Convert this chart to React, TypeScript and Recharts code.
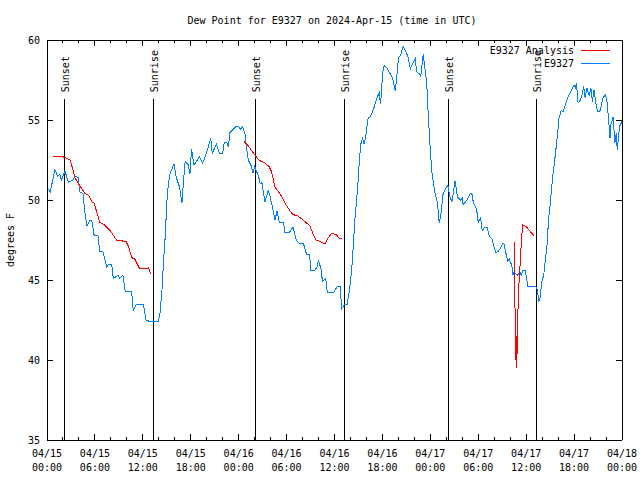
import { Line, LineChart, ReferenceLine, XAxis, YAxis } from "recharts";

const FONT = '"DejaVu Sans Mono", monospace';
const BLUE = "#0080ff";
const RED = "#ff0000";

// hours since 2024-04-15 00:00 UTC, dew point in F
const observed: [number, number][] = [
  [0, 50.8], [0.4, 50.5], [1, 51.9], [1.3, 51.5], [1.6, 51.6], [1.8, 51.25],
  [2.25, 51.8], [2.7, 51.1], [3.3, 51.25], [3.5, 51.5], [3.9, 51.4], [4.1, 50.5],
  [4.5, 50.4], [4.75, 49.2], [5, 48.4], [5.4, 48.75], [5.6, 48.75], [5.9, 47.8],
  [6.4, 47.75], [6.6, 46.8], [7, 46.8], [7.5, 45.8], [7.7, 46], [8.1, 46],
  [8.3, 45.1], [8.9, 45.3], [9.1, 45.1], [9.5, 45.3], [9.8, 44.3], [10.2, 44.25],
  [10.6, 44.3], [10.8, 43.1], [11.2, 43.5], [11.6, 43.5], [12.06, 43.5], [12.4, 42.5],
  [12.9, 42.4], [13.9, 42.4], [14.15, 42.9], [14.4, 44.4], [14.6, 46.25], [14.8, 47.7],
  [15, 49.8], [15.2, 51.05], [15.4, 51.6], [15.6, 51.9], [15.9, 52.25], [16.2, 51.4],
  [16.6, 50.8], [16.9, 49.8], [17.1, 51.25], [17.3, 52.4], [17.7, 52.2], [17.9, 51.6],
  [18.1, 53.2], [18.4, 52.2], [18.7, 52.4], [19.1, 52.7], [19.5, 52.3], [20, 53],
  [20.5, 53.85], [20.7, 52.9], [21.2, 53.5], [21.6, 52.9], [22, 52.9], [22.2, 53.6],
  [22.5, 53.6], [22.7, 53.3], [22.9, 54.2], [23.3, 54.4], [23.7, 54.6], [24, 54.6],
  [24.2, 54.4], [24.5, 54.6], [24.8, 54.1], [25, 53.2], [25.2, 52.5], [25.6, 52.1],
  [25.8, 51.7], [26, 52.1], [26.5, 51.45], [26.7, 51], [26.9, 51.1], [27.3, 49.9],
  [27.7, 50.6], [27.9, 50.3], [28.3, 49.4], [28.55, 48.75], [28.8, 49.3], [29.1, 48.6],
  [29.6, 48.6], [29.8, 47.95], [30.4, 48], [30.8, 48.3], [31.2, 47.5], [31.7, 47.25],
  [32.1, 47.3], [32.5, 46.6], [32.9, 46.6], [33, 45.6], [33.5, 45.6], [33.8, 45.8],
  [34, 46.25], [34.3, 45.7], [34.5, 44.9], [34.9, 45.1], [35.1, 44.2], [35.85, 44.2],
  [36.1, 44.4], [36.35, 44.6], [36.7, 44.6], [36.9, 43.2], [37.3, 43.5], [37.6, 43.5],
  [37.85, 44.3], [38.15, 45.6], [38.35, 47.1], [38.55, 48.75], [38.8, 50.2], [39, 51.5],
  [39.1, 52.4], [39.3, 53.5], [39.5, 53.85], [39.7, 53.5], [39.9, 53.95], [40.2, 55.1],
  [40.5, 55.2], [40.9, 55.7], [41.3, 56.35], [41.6, 56.7], [41.75, 56], [41.9, 56.7],
  [42, 57.9], [42.2, 58.4], [42.5, 58.3], [42.95, 57.9], [43.3, 57.6], [43.6, 56.8],
  [43.8, 57.7], [44, 58.85], [44.3, 59.1], [44.6, 59.6], [44.9, 59.3], [45.2, 58.95],
  [45.5, 58.2], [45.75, 58.5], [46.1, 58.85], [46.3, 58], [46.6, 57.9], [46.8, 57.7],
  [47.1, 59.1], [47.3, 58.3], [47.55, 57.3], [47.75, 55.2], [47.95, 53.5], [48.2, 51.7],
  [48.4, 51], [48.6, 50.4], [48.9, 49.8], [49.1, 48.6], [49.3, 49], [49.6, 50.4],
  [50, 50.8], [50.2, 50.9], [50.45, 50.2], [50.7, 49.9], [50.9, 50.5], [51.1, 51.2],
  [51.4, 50.2], [51.8, 50], [52, 50.1], [52.1, 49.7], [52.6, 50], [53, 50.4],
  [53.2, 50.4], [53.4, 49.8], [53.8, 49.4], [54, 48.6], [54.3, 48.9], [54.5, 48.1],
  [54.8, 48.3], [55.1, 48.3], [55.4, 47.7], [55.7, 47.6], [55.9, 47.2], [56.2, 46.7],
  [56.5, 46.8], [56.8, 47], [57.05, 47.3], [57.2, 47.3], [57.5, 46.6], [57.7, 46.2],
  [57.9, 46.3], [58.2, 45.9], [58.35, 45.3], [58.5, 45.5], [58.9, 45.3], [59.2, 45.5],
  [59.4, 45.3], [59.6, 45.6], [59.9, 45.6], [60.2, 44.6], [61.2, 44.6], [61.4, 44.4],
  [61.6, 43.65], [61.75, 43.9], [61.95, 44.9], [62.2, 45.3], [62.4, 46.25], [62.6, 47.1],
  [62.8, 48.75], [63, 49.7], [63.2, 50.8], [63.4, 51.8], [63.6, 52.6], [63.9, 53.95],
  [64.1, 55.1], [64.4, 55.6], [64.6, 55.5], [64.8, 55.8], [65.1, 56.25], [65.4, 56.6],
  [65.6, 56.8], [66, 57.2], [66.15, 57], [66.3, 57.3], [66.5, 56.05], [66.8, 56.25],
  [67, 56.6], [67.2, 57.1], [67.4, 56.35], [67.6, 57], [67.9, 56.5], [68.1, 57],
  [68.3, 56.15], [68.5, 56.9], [68.8, 55.8], [69, 55.5], [69.3, 55.6], [69.6, 56.35],
  [69.9, 56.6], [70.1, 56.25], [70.3, 55.2], [70.5, 53.85], [70.6, 54.7], [70.9, 55.2],
  [71.1, 53.55], [71.3, 54.2], [71.4, 53.1], [71.7, 54.6], [71.9, 54.8], [72, 55],
];

const analysisNight1: [number, number][] = [
  [0.7, 52.75], [2, 52.7], [2.9, 52.5], [3.3, 51.8], [3.5, 51.4], [3.9, 51.05],
  [4.3, 50.75], [4.75, 50.4], [5.2, 50.3], [5.6, 49.9], [5.9, 49.8], [6.2, 49.3],
  [6.6, 48.6], [7.2, 48.45], [7.9, 48.1], [8.3, 47.8], [8.7, 47.5], [9.9, 47.4],
  [10.2, 47.1], [10.6, 46.4], [11, 46.3], [11.6, 45.7], [12.3, 45.7], [12.7, 45.75],
  [13, 45.4],
];

const analysisNight2: [number, number][] = [
  [24.7, 53.65], [25.2, 53.4], [25.6, 53.1], [26.05, 52.8], [26.5, 52.5], [26.9, 52.4],
  [27.3, 52.3], [27.8, 52.1], [28.1, 51.8], [28.55, 50.8], [29, 50.5], [29.4, 50.2],
  [29.8, 49.8], [30.2, 49.5], [30.75, 49.1], [31.4, 49], [31.8, 48.85], [32.3, 48.65],
  [32.9, 48.4], [33.3, 47.9], [33.7, 47.5], [34.2, 47.4], [34.8, 47.25], [35.1, 47.55],
  [35.6, 47.9], [36.2, 47.85], [36.6, 47.6], [36.9, 47.6],
];

const analysisNight3: [number, number][] = [
  [58.55, 47.4], [58.6, 43.3], [58.75, 39.5], [58.8, 41.5], [58.85, 40.3], [58.95, 42.7],
  [59.05, 44.4], [59.15, 45.2], [59.3, 46.5], [59.45, 47.8], [59.6, 48.45], [60, 48.35],
  [60.4, 48.1], [61, 47.75],
];

const sunHours = [2.15, 13.3, 26.17, 37.23, 50.25, 61.3];
const sunNames = ["Sunset", "Sunrise", "Sunset", "Sunrise", "Sunset", "Sunrise"];
const sunLineTop = 56.3;

const majorHours = [0, 6, 12, 18, 24, 30, 36, 42, 48, 54, 60, 66, 72];
const majorDates = ["04/15", "04/15", "04/15", "04/15", "04/16", "04/16", "04/16", "04/16", "04/17", "04/17", "04/17", "04/17", "04/18"];
const majorTimes = ["00:00", "06:00", "12:00", "18:00", "00:00", "06:00", "12:00", "18:00", "00:00", "06:00", "12:00", "18:00", "00:00"];
const xTicks = Array.from({ length: 37 }, (_, i) => i * 2);
const yTicks = [35, 40, 45, 50, 55, 60];

const toRows = (pts: [number, number][]) => pts.map(([h, v]) => ({ h, v }));

const textStyle = { fontFamily: FONT, fontSize: 10, fill: "#000" };

function BottomTick({ x, y, payload }: any) {
  const i = majorHours.indexOf(payload.value);
  return (
    <g>
      <line x1={x} x2={x} y1={y} y2={y - (i >= 0 ? 6 : 3)} stroke="#000" />
      {i >= 0 && (
        <text x={x} y={y + 17} textAnchor="middle" {...textStyle}>
          <tspan x={x}>{majorDates[i]}</tspan>
          <tspan x={x} dy={14}>{majorTimes[i]}</tspan>
        </text>
      )}
    </g>
  );
}

function TopTick({ x, y, payload }: any) {
  const major = majorHours.includes(payload.value);
  return <line x1={x} x2={x} y1={y} y2={y + (major ? 6 : 3)} stroke="#000" />;
}

function LeftTick({ x, y, payload }: any) {
  return (
    <g>
      <line x1={x} x2={x + 6} y1={y} y2={y} stroke="#000" />
      <text x={x - 7} y={y + 3.5} textAnchor="end" {...textStyle}>
        {payload.value}
      </text>
    </g>
  );
}

function RightTick({ x, y }: any) {
  return <line x1={x} x2={x - 6} y1={y} y2={y} stroke="#000" />;
}

function SunLabel({ viewBox, text }: any) {
  const x = viewBox.x + 1;
  const y = viewBox.y - 7;
  return (
    <text x={x} y={y} transform={`rotate(-90 ${x} ${y})`} dominantBaseline="central" {...textStyle}>
      {text}
    </text>
  );
}

export default function App() {
  return (
    <div style={{ position: "absolute", left: 0, top: 0, width: 640, height: 480, background: "#fff", shapeRendering: "crispEdges" }}>
      <LineChart width={640} height={480} margin={{ top: 30, right: 8, bottom: 10, left: 7 }}>
        <XAxis
          dataKey="h"
          type="number"
          domain={[0, 72]}
          allowDataOverflow
          ticks={xTicks}
          interval={0}
          height={30}
          tickSize={0}
          tickMargin={0}
          tickLine={false}
          axisLine={{ stroke: "#000" }}
          tick={<BottomTick />}
        />
        <XAxis
          xAxisId="top"
          orientation="top"
          dataKey="h"
          type="number"
          domain={[0, 72]}
          allowDataOverflow
          ticks={xTicks}
          interval={0}
          height={10}
          tickSize={0}
          tickMargin={0}
          tickLine={false}
          axisLine={{ stroke: "#000" }}
          tick={<TopTick />}
        />
        <YAxis
          type="number"
          domain={[35, 60]}
          allowDataOverflow
          ticks={yTicks}
          interval={0}
          width={40}
          tickSize={0}
          tickMargin={0}
          tickLine={false}
          axisLine={{ stroke: "#000" }}
          tick={<LeftTick />}
        />
        <YAxis
          yAxisId="right"
          orientation="right"
          type="number"
          domain={[35, 60]}
          allowDataOverflow
          ticks={yTicks}
          interval={0}
          width={10}
          tickSize={0}
          tickMargin={0}
          tickLine={false}
          axisLine={{ stroke: "#000" }}
          tick={<RightTick />}
        />
        {sunHours.map((h, i) => (
          <ReferenceLine
            key={i}
            segment={[{ x: h, y: 35 }, { x: h, y: sunLineTop }]}
            stroke="#000"
            strokeWidth={1}
            label={<SunLabel text={sunNames[i]} />}
          />
        ))}
        <Line data={toRows(observed)} dataKey="v" stroke={BLUE} strokeWidth={1} dot={false} activeDot={false} isAnimationActive={false} />
        {[analysisNight1, analysisNight2, analysisNight3].map((seg, i) => (
          <Line key={i} data={toRows(seg)} dataKey="v" stroke={RED} strokeWidth={1} dot={false} activeDot={false} isAnimationActive={false} />
        ))}
      </LineChart>
      <svg width={640} height={480} style={{ position: "absolute", left: 0, top: 0, pointerEvents: "none" }}>
        <text x={332} y={24} textAnchor="middle" {...textStyle}>
          Dew Point for E9327 on 2024-Apr-15 (time in UTC)
        </text>
        <text x={10} y={240} transform="rotate(-90 10 240)" textAnchor="middle" dominantBaseline="central" {...textStyle}>
          degrees F
        </text>
        <text x={574} y={53.5} textAnchor="end" {...textStyle}>E9327 Analysis</text>
        <line x1={581} x2={610} y1={50} y2={50} stroke={RED} />
        <text x={574} y={66.5} textAnchor="end" {...textStyle}>E9327</text>
        <line x1={581} x2={610} y1={63} y2={63} stroke={BLUE} />
      </svg>
    </div>
  );
}
